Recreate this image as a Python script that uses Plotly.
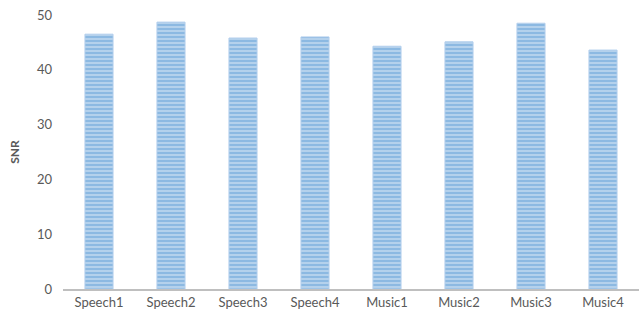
import plotly.graph_objects as go

categories = ["Speech1", "Speech2", "Speech3", "Speech4", "Music1", "Music2", "Music3", "Music4"]
snr_values = [46.5, 48.7, 45.8, 46.0, 44.3, 45.1, 48.5, 43.6]
y_ticks = [0, 10, 20, 30, 40, 50]

fig = go.Figure(
    go.Bar(
        x=categories,
        y=snr_values,
        marker=dict(
            color="#BDD7EE",
            line=dict(color="#B2CEEC", width=1),
            pattern=dict(shape="-", fgcolor="#5B9BD5", bgcolor="#BDD7EE",
                         size=4, solidity=0.6, fillmode="overlay"),
        ),
    )
)

fig.update_layout(
    width=643,
    height=323,
    margin=dict(l=63, r=4, t=15, b=34),
    paper_bgcolor="white",
    plot_bgcolor="white",
    bargap=0.61,
    showlegend=False,
    font=dict(family="Lato, Open Sans, sans-serif", size=13, color="#595959"),
)

fig.update_xaxes(
    showline=True,
    linecolor="#BFBFBF",
    linewidth=2,
    showgrid=False,
    ticks="",
    tickfont=dict(size=13, color="#595959"),
)

fig.update_yaxes(
    range=[0, 50],
    tickvals=y_ticks,
    showgrid=False,
    zeroline=False,
    showline=False,
    ticks="",
    ticklabelstandoff=10,
    tickfont=dict(size=13, color="#595959"),
    title=dict(text="<b>SNR</b>", font=dict(size=12, color="#595959"), standoff=14),
)

fig.write_html("out.html")
